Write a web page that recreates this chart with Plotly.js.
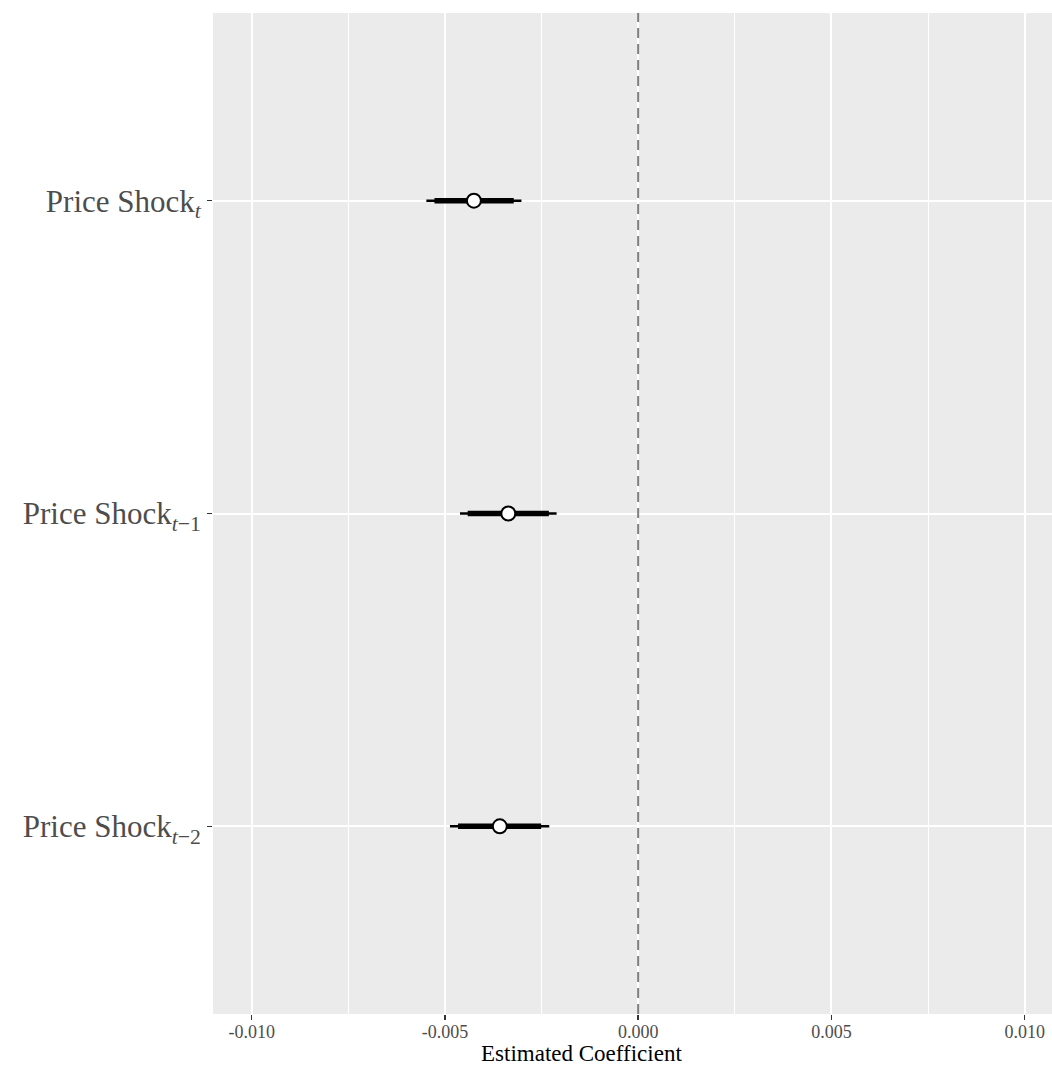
<!DOCTYPE html>
<html>
<head>
<meta charset="utf-8">
<script src="https://cdn.plot.ly/plotly-3.0.1.min.js"></script>
<style>html,body{margin:0;padding:0;background:#fff;}#chart{width:1052px;height:1065px;}</style>
</head>
<body>
<div id="chart"></div>
<script>
// Data
var terms = ["Price Shock<sub><i>t</i></sub>", "Price Shock<sub><i>t</i>−1</sub>", "Price Shock<sub><i>t</i>−2</sub>"];
var estimate = [-0.00425, -0.00336, -0.00358];
var lo90 = [-0.00527, -0.00441, -0.00466];
var hi90 = [-0.00322, -0.00231, -0.00251];
var lo95 = [-0.00548, -0.00461, -0.00487];
var hi95 = [-0.00302, -0.00211, -0.00230];
var xTickVals = [-0.010, -0.005, 0.000, 0.005, 0.010];
var xTickText = ["-0.010", "-0.005", "0.000", "0.005", "0.010"];

function segs(lo, hi) {
  var xs = [], ys = [];
  for (var i = 0; i < terms.length; i++) {
    xs.push(lo[i], hi[i], null);
    ys.push(terms[i], terms[i], null);
  }
  return {x: xs, y: ys};
}
var s95 = segs(lo95, hi95);
var s90 = segs(lo90, hi90);

var serif = "'Liberation Serif', 'DejaVu Serif', serif";

var traces = [
  {type: "scatter", mode: "lines", x: s95.x, y: s95.y, line: {color: "black", width: 2.5}, hoverinfo: "skip", showlegend: false},
  {type: "scatter", mode: "lines", x: s90.x, y: s90.y, line: {color: "black", width: 5.5}, hoverinfo: "skip", showlegend: false},
  {type: "scatter", mode: "markers", x: estimate, y: terms,
   marker: {symbol: "circle", size: 14, color: "white", line: {color: "black", width: 2}}, showlegend: false}
];

var layout = {
  width: 1052, height: 1065,
  margin: {l: 213, r: 0, t: 13, b: 51},
  paper_bgcolor: "white",
  plot_bgcolor: "#EBEBEB",
  font: {family: serif, color: "#4D4D4D"},
  showlegend: false,
  xaxis: {
    range: [-0.011, 0.010707],
    tickvals: xTickVals, ticktext: xTickText,
    showgrid: true, gridcolor: "white", gridwidth: 2,
    minor: {dtick: 0.0025, tick0: 0, showgrid: true, gridcolor: "white", gridwidth: 1, ticks: ""},
    zeroline: false, showline: false,
    ticks: "outside", ticklen: 5, tickwidth: 1.5, tickcolor: "#333333",
    ticklabelstandoff: -4,
    tickfont: {family: serif, size: 18, color: "#4D4D4D"}
  },
  yaxis: {
    type: "category",
    categoryorder: "array", categoryarray: [terms[2], terms[1], terms[0]],
    range: [-0.6, 2.6],
    showgrid: true, gridcolor: "white", gridwidth: 2,
    zeroline: false, showline: false,
    ticks: "outside", ticklen: 5, tickwidth: 1.5, tickcolor: "#333333",
    tickfont: {family: serif, size: 31, color: "#4D4D4D"}
  },
  shapes: [
    {type: "line", xref: "x", yref: "paper", x0: 0, x1: 0, y0: 0, y1: 1,
     line: {color: "#7F7F7F", width: 2, dash: "10px,6px"}, layer: "above"}
  ],
  annotations: [
    {text: "Estimated Coefficient", xref: "paper", yref: "paper",
     x: (581 - 213) / (1052 - 213), y: -0.0395, xanchor: "center", yanchor: "middle",
     showarrow: false, font: {family: serif, size: 23, color: "black"}}
  ]
};

Plotly.newPlot("chart", traces, layout, {displayModeBar: false, staticPlot: true});
</script>
</body>
</html>
